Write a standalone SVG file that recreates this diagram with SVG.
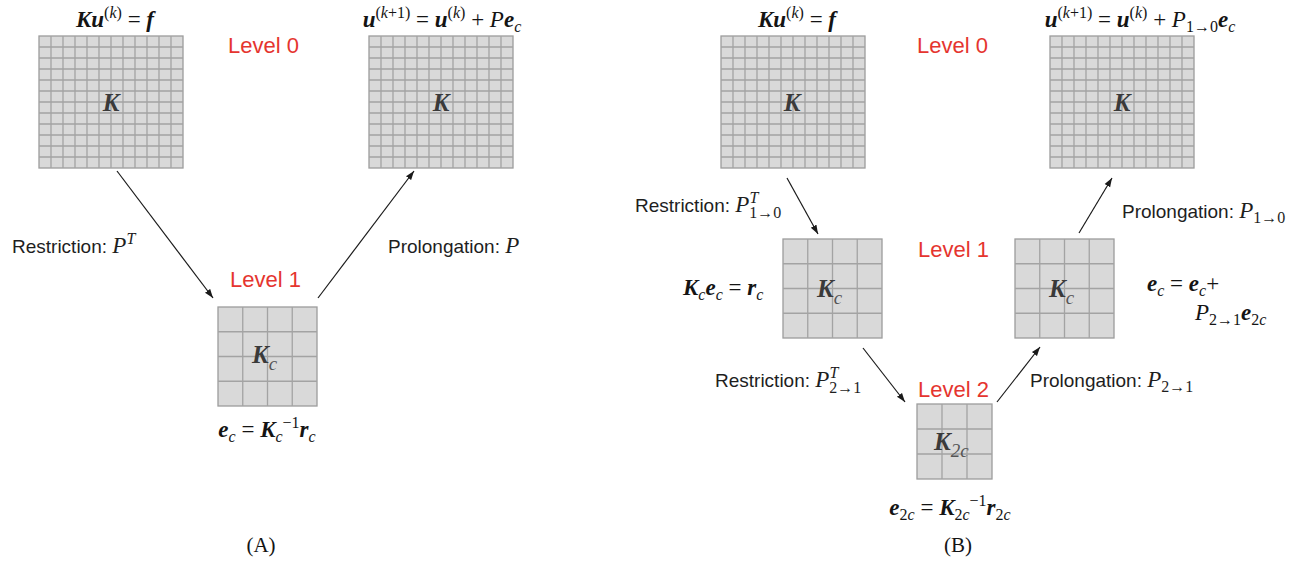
<svg xmlns="http://www.w3.org/2000/svg" xmlns:xlink="http://www.w3.org/1999/xlink" width="1310" height="563" viewBox="0 0 1310 563">
<style>
.m{font-family:"Liberation Serif","Times New Roman",serif;font-size:23px;fill:#141414}
.bi{font-weight:bold;font-style:italic}
.it{font-style:italic}
.rg{font-style:normal;font-weight:normal}
.sup{font-size:16px}
.lbl{font-family:"Liberation Sans",Arial,sans-serif;font-size:19px;fill:#1e1e1e}
.mi{font-family:"Liberation Serif","Times New Roman",serif;font-style:italic;font-size:23px}
.ms{font-family:"Liberation Serif","Times New Roman",serif;font-style:italic;font-size:16px}
.mr{font-family:"Liberation Serif","Times New Roman",serif;font-style:normal;font-size:16px}
.lvl{font-family:"Liberation Sans",Arial,sans-serif;font-size:22px;fill:#e5352f}
.gk{font-family:"Liberation Serif","Times New Roman",serif;font-weight:bold;font-style:italic;font-size:25px;fill:#3a3a3a}
.gs{font-weight:normal;font-style:italic;font-size:19px;fill:#555}
.cell{fill:#d9d9d9;stroke:#9c9c9c;stroke-width:1.3}
.gl{fill:none;stroke:#a3a3a3;stroke-width:1.3}
.conn{stroke:#1a1a1a;stroke-width:1.2;fill:none}
.cap{font-family:"Liberation Serif","Times New Roman",serif;font-size:21px;fill:#141414}
</style>
<defs>
<marker id="ah" markerUnits="userSpaceOnUse" markerWidth="10" markerHeight="8" refX="9" refY="4" orient="auto">
<path d="M0,0.8 L9,4 L0,7.2 Z" fill="#1a1a1a"/>
</marker>
<g id="big">
<rect class="cell" x="0" y="0" width="144" height="132"/>
<path class="gl" d="M12 0V132M24 0V132M36 0V132M48 0V132M60 0V132M72 0V132M84 0V132M96 0V132M108 0V132M120 0V132M132 0V132M0 11H144M0 22H144M0 33H144M0 44H144M0 55H144M0 66H144M0 77H144M0 88H144M0 99H144M0 110H144M0 121H144"/>
</g>
<g id="mid">
<rect class="cell" x="0" y="0" width="99" height="99"/>
<path class="gl" d="M24.75 0V99M49.5 0V99M74.25 0V99M0 24.75H99M0 49.5H99M0 74.25H99"/>
</g>
<g id="small">
<rect class="cell" x="0" y="0" width="75" height="75"/>
<path class="gl" d="M25 0V75M50 0V75M0 25H75M0 50H75"/>
</g>
</defs>
<rect width="1310" height="563" fill="#ffffff"/>

<!-- Panel A -->
<g id="a-level0-left">
<text class="m" x="115" y="27" text-anchor="middle"><tspan class="bi">Ku</tspan><tspan class="sup" dy="-9">(<tspan class="it">k</tspan>)</tspan><tspan dy="9"> = </tspan><tspan class="bi">f</tspan></text>
<use xlink:href="#big" href="#big" x="39" y="36"/>
<text class="gk" x="111" y="111" text-anchor="middle">K</text>
</g>
<g id="a-level0-right">
<text class="m" x="442" y="27" text-anchor="middle"><tspan class="bi">u</tspan><tspan class="sup" dy="-9">(<tspan class="it">k</tspan>+1)</tspan><tspan dy="9"> = </tspan><tspan class="bi">u</tspan><tspan class="sup" dy="-9">(<tspan class="it">k</tspan>)</tspan><tspan dy="9"> + </tspan><tspan class="it">P</tspan><tspan class="bi">e</tspan><tspan class="sup it" dy="5">c</tspan></text>
<use xlink:href="#big" href="#big" x="369" y="36"/>
<text class="gk" x="441" y="111" text-anchor="middle">K</text>
</g>
<g id="a-labels">
<text class="lvl" x="228" y="53">Level 0</text>
<text class="lvl" x="230" y="287">Level 1</text>
<text class="lbl" x="12" y="253">Restriction: <tspan class="mi">P</tspan><tspan class="ms" dy="-9">T</tspan></text>
<text class="lbl" x="388" y="253">Prolongation: <tspan class="mi">P</tspan></text>
</g>
<g id="a-level1">
<use xlink:href="#mid" href="#mid" x="218" y="307"/>
<text class="gk" x="252" y="363">K<tspan class="gs" dy="7">c</tspan></text>
<text class="m" x="267" y="437" text-anchor="middle"><tspan class="bi">e</tspan><tspan class="sup it" dy="5">c</tspan><tspan dy="-5"> = </tspan><tspan class="bi">K</tspan><tspan class="sup it" dy="5">c</tspan><tspan class="sup" dy="-14">−1</tspan><tspan class="bi" dy="9">r</tspan><tspan class="sup it" dy="5">c</tspan></text>
</g>
<text id="cap-a" class="cap" x="261" y="552" text-anchor="middle">(A)</text>

<!-- Panel B -->
<g id="b-level0-left">
<text class="m" x="797" y="27" text-anchor="middle"><tspan class="bi">Ku</tspan><tspan class="sup" dy="-9">(<tspan class="it">k</tspan>)</tspan><tspan dy="9"> = </tspan><tspan class="bi">f</tspan></text>
<use xlink:href="#big" href="#big" x="721" y="36"/>
<text class="gk" x="792" y="111" text-anchor="middle">K</text>
</g>
<g id="b-level0-right">
<text class="m" x="1140" y="27" text-anchor="middle"><tspan class="bi">u</tspan><tspan class="sup" dy="-9">(<tspan class="it">k</tspan>+1)</tspan><tspan dy="9"> = </tspan><tspan class="bi">u</tspan><tspan class="sup" dy="-9">(<tspan class="it">k</tspan>)</tspan><tspan dy="9"> + </tspan><tspan class="it">P</tspan><tspan class="sup" dy="5">1→0</tspan><tspan class="bi" dy="-5">e</tspan><tspan class="sup it" dy="5">c</tspan></text>
<use xlink:href="#big" href="#big" x="1050" y="36"/>
<text class="gk" x="1122" y="111" text-anchor="middle">K</text>
</g>
<g id="b-level1-left">
<use xlink:href="#mid" href="#mid" x="783" y="239"/>
<text class="gk" x="817" y="297">K<tspan class="gs" dy="7">c</tspan></text>
<text class="m" x="683" y="295"><tspan class="bi">K</tspan><tspan class="sup it" dy="5">c</tspan><tspan class="bi" dy="-5">e</tspan><tspan class="sup it" dy="5">c</tspan><tspan dy="-5"> = </tspan><tspan class="bi">r</tspan><tspan class="sup it" dy="5">c</tspan></text>
</g>
<g id="b-level1-right">
<use xlink:href="#mid" href="#mid" x="1015" y="239"/>
<text class="gk" x="1049" y="297">K<tspan class="gs" dy="7">c</tspan></text>
<text class="m" x="1147" y="291"><tspan class="bi">e</tspan><tspan class="sup it" dy="5">c</tspan><tspan dy="-5"> = </tspan><tspan class="bi">e</tspan><tspan class="sup it" dy="5">c</tspan><tspan dy="-5">+</tspan></text>
<text class="m" x="1195" y="320"><tspan class="it">P</tspan><tspan class="sup" dy="5">2→1</tspan><tspan class="bi" dy="-5">e</tspan><tspan class="sup" dy="5">2<tspan class="it">c</tspan></tspan></text>
</g>
<g id="b-level2">
<use xlink:href="#small" href="#small" x="917" y="404"/>
<text class="gk" x="934" y="450">K<tspan class="gs" dy="7">2c</tspan></text>
<text class="m" x="950" y="515" text-anchor="middle"><tspan class="bi">e</tspan><tspan class="sup" dy="5">2<tspan class="it">c</tspan></tspan><tspan dy="-5"> = </tspan><tspan class="bi">K</tspan><tspan class="sup" dy="5">2<tspan class="it">c</tspan></tspan><tspan class="sup" dy="-14">−1</tspan><tspan class="bi" dy="9">r</tspan><tspan class="sup" dy="5">2<tspan class="it">c</tspan></tspan></text>
</g>
<g id="b-labels">
<text class="lvl" x="917" y="53">Level 0</text>
<text class="lvl" x="918" y="257">Level 1</text>
<text class="lvl" x="918" y="397">Level 2</text>
<text class="lbl" x="635" y="212">Restriction: <tspan class="mi">P</tspan><tspan class="ms" dy="-9">T</tspan><tspan class="mr" dx="-9" dy="15">1→0</tspan></text>
<text class="lbl" x="1122" y="218">Prolongation: <tspan class="mi">P</tspan><tspan class="mr" dy="5">1→0</tspan></text>
<text class="lbl" x="715" y="387">Restriction: <tspan class="mi">P</tspan><tspan class="ms" dy="-9">T</tspan><tspan class="mr" dx="-9" dy="15">2→1</tspan></text>
<text class="lbl" x="1030" y="387">Prolongation: <tspan class="mi">P</tspan><tspan class="mr" dy="5">2→1</tspan></text>
</g>
<text id="cap-b" class="cap" x="958" y="552" text-anchor="middle">(B)</text>

<g id="connectors">
<line class="conn" x1="117" y1="171" x2="213" y2="298" marker-end="url(#ah)"/>
<line class="conn" x1="318" y1="298" x2="414" y2="171" marker-end="url(#ah)"/>
<line class="conn" x1="787" y1="178" x2="818" y2="234" marker-end="url(#ah)"/>
<line class="conn" x1="863" y1="348" x2="905" y2="402" marker-end="url(#ah)"/>
<line class="conn" x1="997" y1="402" x2="1040" y2="347" marker-end="url(#ah)"/>
<line class="conn" x1="1079" y1="233" x2="1112" y2="178" marker-end="url(#ah)"/>
</g>
</svg>
